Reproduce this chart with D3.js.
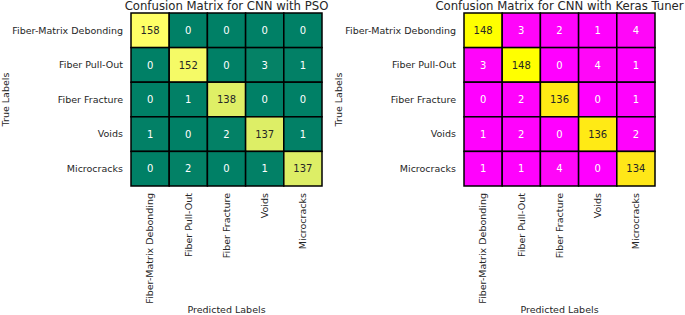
<!DOCTYPE html>
<html lang="en">
<head>
<meta charset="UTF-8">
<title>Confusion Matrices</title>
<script src="https://d3js.org/d3.v7.min.js"></script>
<style>
  body { margin: 0; background: #fff; }
  svg text { font-family: "DejaVu Sans", sans-serif; fill: #262626; }
</style>
</head>
<body>
<svg width="685" height="315"></svg>
<script>
const classes = ["Fiber-Matrix Debonding", "Fiber Pull-Out", "Fiber Fracture", "Voids", "Microcracks"];

const psoMatrix = [
  [158, 0, 0, 0, 0],
  [0, 152, 0, 3, 1],
  [0, 1, 138, 0, 0],
  [1, 0, 2, 137, 1],
  [0, 2, 0, 1, 137]
];

const kerasMatrix = [
  [148, 3, 2, 1, 4],
  [3, 148, 0, 4, 1],
  [0, 2, 136, 0, 1],
  [1, 2, 0, 136, 2],
  [1, 1, 4, 0, 134]
];

const titles = ["Confusion Matrix for CNN with PSO", "Confusion Matrix for CNN with Keras Tuner"];

// matplotlib "summer" and "spring" colormaps
const summer = t => d3.rgb(255 * t, 255 * (0.5 + 0.5 * t), 0.4 * 255);
const spring = t => d3.rgb(255, 255 * t, 255 * (1 - t));

const svg = d3.select("svg");

function drawMatrix(matrix, title, cmap, left) {
  const top = 13, w = 191, h = 173;
  const g = svg.append("g");

  const x = d3.scaleBand().domain(d3.range(5)).range([left, left + w]);
  const y = d3.scaleBand().domain(d3.range(5)).range([top, top + h]);
  const maxVal = d3.max(matrix.flat());
  const color = v => cmap(v / maxVal);

  const cells = matrix.flatMap((row, i) => row.map((v, j) => ({ i, j, v })));

  g.selectAll("rect.cell")
    .data(cells)
    .enter().append("rect")
    .attr("class", "cell")
    .attr("x", d => x(d.j))
    .attr("y", d => y(d.i))
    .attr("width", x.bandwidth())
    .attr("height", y.bandwidth())
    .attr("fill", d => color(d.v))
    .attr("stroke", "#000")
    .attr("stroke-width", 1.5);

  g.selectAll("text.val")
    .data(cells)
    .enter().append("text")
    .attr("class", "val")
    .attr("x", d => x(d.j) + x.bandwidth() / 2)
    .attr("y", d => y(d.i) + y.bandwidth() / 2)
    .attr("dy", "0.36em")
    .attr("text-anchor", "middle")
    .style("font-size", "10px")
    .style("fill", d => {
      const c = color(d.v);
      const lum = 0.2126 * c.r + 0.7152 * c.g + 0.0722 * c.b;
      return lum / 255 > 0.408 ? "#262626" : "#fff";
    })
    .text(d => d.v);

  // y tick labels
  g.selectAll("text.ylab")
    .data(classes)
    .enter().append("text")
    .attr("class", "ylab")
    .attr("x", left - 8)
    .attr("y", (d, i) => y(i) + y.bandwidth() / 2)
    .attr("dy", "0.35em")
    .attr("text-anchor", "end")
    .style("font-size", "9.5px")
    .text(d => d);

  // x tick labels, rotated
  g.selectAll("text.xlab")
    .data(classes)
    .enter().append("text")
    .attr("class", "xlab")
    .attr("transform", (d, i) => `translate(${x(i) + x.bandwidth() / 2},${top + h + 7}) rotate(-90)`)
    .attr("dy", "0.35em")
    .attr("text-anchor", "end")
    .style("font-size", "9.5px")
    .text(d => d);

  g.append("text")
    .attr("x", left + w / 2)
    .attr("y", 10)
    .attr("text-anchor", "middle")
    .style("font-size", "11.7px")
    .text(title);

  g.append("text")
    .attr("x", left + w / 2)
    .attr("y", 313)
    .attr("text-anchor", "middle")
    .style("font-size", "9.5px")
    .text("Predicted Labels");

  g.append("text")
    .attr("transform", `translate(${left - 122},${top + h / 2}) rotate(-90)`)
    .attr("text-anchor", "middle")
    .style("font-size", "9.5px")
    .text("True Labels");
}

drawMatrix(psoMatrix, titles[0], summer, 131);
drawMatrix(kerasMatrix, titles[1], spring, 464);
</script>
</body>
</html>
